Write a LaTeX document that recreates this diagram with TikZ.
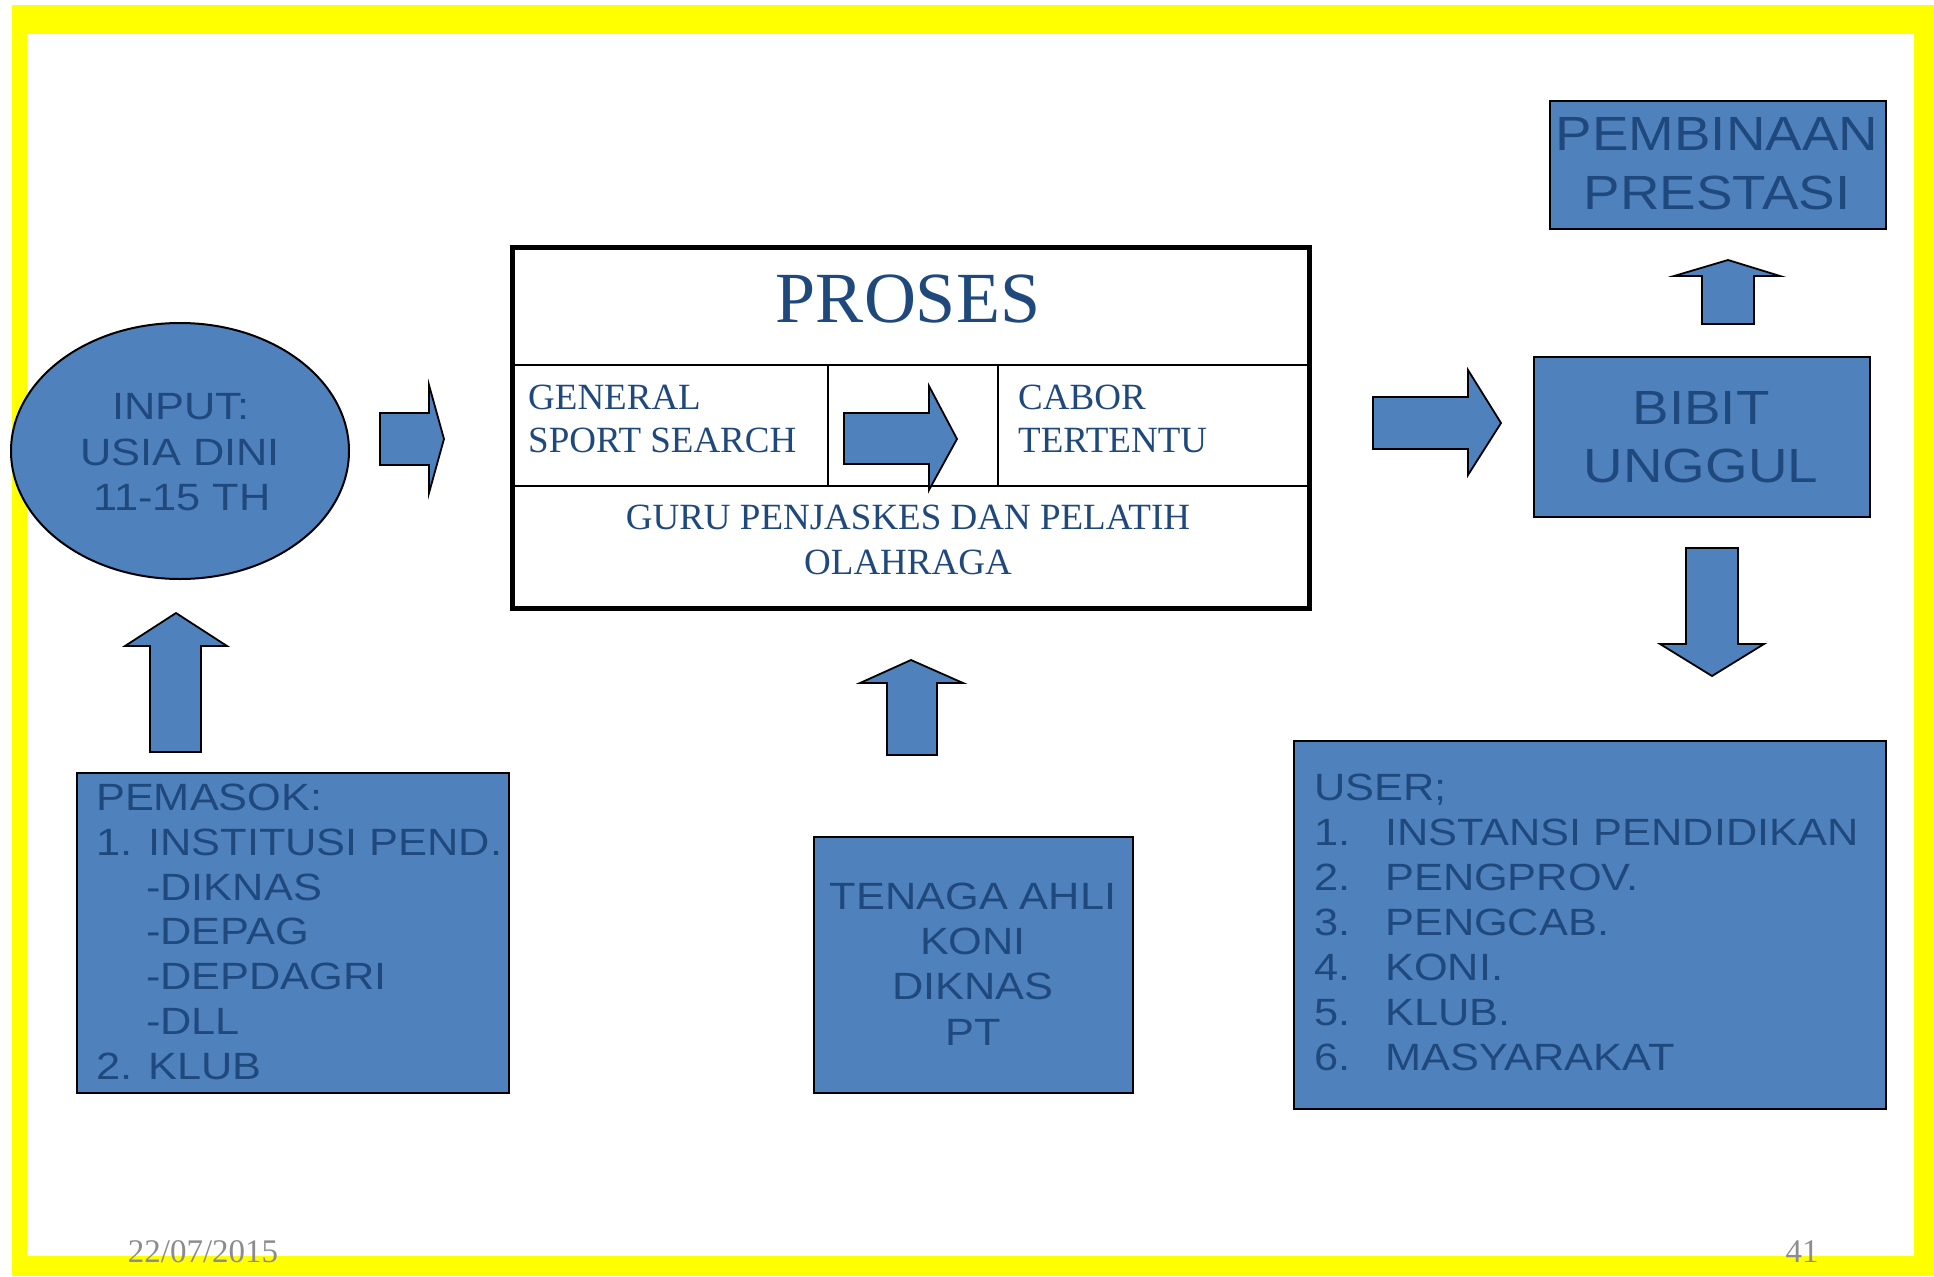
\documentclass[tikz,border=0pt]{standalone}
\usepackage{fontspec}
\setmainfont{Liberation Serif}
\newfontfamily\sansf[FakeStretch=1.14]{Liberation Sans}
\usetikzlibrary{shapes.geometric}
\definecolor{fillblue}{HTML}{4F81BD}
\definecolor{txtblue}{HTML}{1F497D}
\definecolor{frameyellow}{HTML}{FFFF00}
\definecolor{footgray}{HTML}{8C8C8C}
\tikzset{
  box/.style={draw=black, line width=2pt, fill=fillblue, inner sep=0pt, anchor=north west},
  blockarrow/.style={draw=black, line width=1.8pt, fill=fillblue, line join=miter},
  stxt/.style={text=txtblue, inner sep=0pt, font=\sansf\fontsize{38}{45}\selectfont},
  btxt/.style={text=txtblue, inner sep=0pt, font=\sansf\fontsize{48}{58}\selectfont},
  rtxt/.style={text=txtblue, inner sep=0pt, font=\fontsize{37}{45}\selectfont},
  foot/.style={text=footgray, inner sep=0pt, font=\fontsize{33}{33}\selectfont, anchor=base},
}
\begin{document}
\begin{tikzpicture}[x=1pt,y=-1pt]
\useasboundingbox (0,0) rectangle (1934,1276);
% frame
\fill[frameyellow] (12,5) rectangle (1934,1276);
\fill[white] (27,34) rectangle (1914,1256);

% INPUT ellipse
\node[draw=black, line width=2pt, fill=fillblue, ellipse, minimum width=338pt, minimum height=256pt, inner sep=0pt] (input) at (180,451) {};
\node[stxt, anchor=base] (in1) at (181,419) {INPUT:};
\node[stxt, anchor=base] (in2) at (180,465) {USIA DINI};
\node[stxt, anchor=base] (in3) at (182,510) {11-15 TH};

% PROSES box
\node[draw=black, line width=5pt, fill=white, minimum width=797pt, minimum height=361pt, inner sep=0pt, anchor=north west] (proses) at (510,245) {};
\draw[line width=2.2pt] (510,365) -- (1307,365);
\draw[line width=2.2pt] (510,486) -- (1307,486);
\draw[line width=2.2pt] (828,365) -- (828,486);
\draw[line width=2.2pt] (998,365) -- (998,486);
\node[text=txtblue, inner sep=0pt, font=\fontsize{72}{80}\selectfont, anchor=base] (prosestitle) at (908,322) {PROSES};
\node[rtxt, anchor=base west] (gen1) at (528,409) {GENERAL};
\node[rtxt, anchor=base west] (gen2) at (528,452) {SPORT SEARCH};
\node[rtxt, anchor=base west] (cab1) at (1018,409) {CABOR};
\node[rtxt, anchor=base west] (cab2) at (1018,452) {TERTENTU};
\node[rtxt, anchor=base] (guru1) at (908,529) {GURU PENJASKES DAN PELATIH};
\node[rtxt, anchor=base] (guru2) at (908,574) {OLAHRAGA};

% block arrows
% ellipse -> proses
\draw[blockarrow] (380,413) -- (429,413) -- (429,385) -- (444,439) -- (429,493) -- (429,465) -- (380,465) -- cycle;
% inside proses
\draw[blockarrow] (844,413) -- (929,413) -- (929,386) -- (957,439) -- (929,490) -- (929,464) -- (844,464) -- cycle;
% proses -> bibit
\draw[blockarrow] (1373,397) -- (1468,397) -- (1468,370) -- (1501,423) -- (1468,475) -- (1468,449) -- (1373,449) -- cycle;
% bibit -> pembinaan (up)
\draw[blockarrow] (1702,324) -- (1702,276) -- (1674,276) -- (1728,260) -- (1780,276) -- (1754,276) -- (1754,324) -- cycle;
% bibit -> user (down)
\draw[blockarrow] (1686,548) -- (1738,548) -- (1738,644) -- (1764,644) -- (1712,676) -- (1660,644) -- (1686,644) -- cycle;
% pemasok -> input (up)
\draw[blockarrow] (150,752) -- (150,646) -- (125,646) -- (176,613) -- (227,646) -- (201,646) -- (201,752) -- cycle;
% tenaga -> proses (up)
\draw[blockarrow] (887,755) -- (887,683) -- (860,683) -- (911,660) -- (963,683) -- (937,683) -- (937,755) -- cycle;

% BIBIT UNGGUL
\node[box, minimum width=336pt, minimum height=160pt] (bibit) at (1533,356) {};
\node[btxt, anchor=base] (bb1) at (1701,424) {BIBIT};
\node[btxt, anchor=base] (bb2) at (1701,482) {UNGGUL};

% PEMBINAAN PRESTASI
\node[box, minimum width=336pt, minimum height=128pt] (pembinaan) at (1549,100) {};
\node[btxt, anchor=base] (pb1) at (1717,151) {PEMBINAAN};
\node[btxt, anchor=base] (pb2) at (1717,209) {PRESTASI};

% PEMASOK
\node[box, minimum width=432pt, minimum height=320pt] (pemasok) at (76,772) {};
\node[stxt, anchor=base west] (pm1) at (96,810) {PEMASOK:};
\node[stxt, anchor=base west] (pm2) at (96,855) {1. INSTITUSI PEND.};
\node[stxt, anchor=base west] (pm3) at (146,900) {-DIKNAS};
\node[stxt, anchor=base west] (pm4) at (146,944) {-DEPAG};
\node[stxt, anchor=base west] (pm5) at (146,989) {-DEPDAGRI};
\node[stxt, anchor=base west] (pm6) at (146,1034) {-DLL};
\node[stxt, anchor=base west] (pm7) at (96,1079) {2. KLUB};

% TENAGA AHLI
\node[box, minimum width=319pt, minimum height=256pt] (tenaga) at (813,836) {};
\node[stxt, anchor=base] (tg1) at (973,909) {TENAGA AHLI};
\node[stxt, anchor=base] (tg2) at (973,954) {KONI};
\node[stxt, anchor=base] (tg3) at (973,999) {DIKNAS};
\node[stxt, anchor=base] (tg4) at (973,1045) {PT};

% USER
\node[box, minimum width=592pt, minimum height=368pt] (user) at (1293,740) {};
\node[stxt, anchor=base west] (us0) at (1314,800) {USER;};
\node[stxt, anchor=base west] (un1) at (1314,845) {1.};
\node[stxt, anchor=base west] (un2) at (1314,890) {2.};
\node[stxt, anchor=base west] (un3) at (1314,935) {3.};
\node[stxt, anchor=base west] (un4) at (1314,980) {4.};
\node[stxt, anchor=base west] (un5) at (1314,1025) {5.};
\node[stxt, anchor=base west] (un6) at (1314,1070) {6.};
\node[stxt, anchor=base west] (us1) at (1385,845) {INSTANSI PENDIDIKAN};
\node[stxt, anchor=base west] (us2) at (1385,890) {PENGPROV.};
\node[stxt, anchor=base west] (us3) at (1385,935) {PENGCAB.};
\node[stxt, anchor=base west] (us4) at (1385,980) {KONI.};
\node[stxt, anchor=base west] (us5) at (1385,1025) {KLUB.};
\node[stxt, anchor=base west] (us6) at (1385,1070) {MASYARAKAT};

% footer
\node[foot] (date) at (203,1262) {22/07/2015};
\node[foot] (page) at (1802,1262) {41};
\end{tikzpicture}
\end{document}
